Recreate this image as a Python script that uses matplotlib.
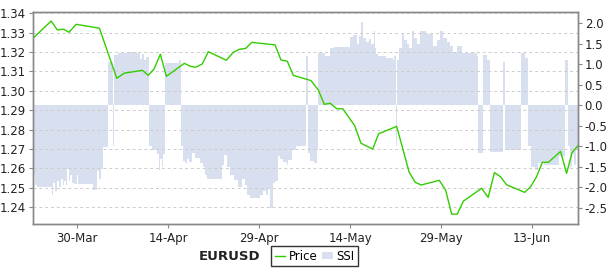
import matplotlib
matplotlib.use("Agg")
import matplotlib.pyplot as plt
from matplotlib.lines import Line2D
from matplotlib.patches import Patch
import numpy as np

# days counted from 30-Mar
price_day = [-7.42, -4.33, -3.30, -2.31, -1.37, -0.21, 3.63, 6.49, 7.70, 10.71,
             11.70, 12.64, 13.68, 14.67, 17.64, 18.58, 19.52, 20.60, 21.59, 24.56,
             25.71, 26.70, 27.76, 28.75, 32.59, 33.58, 34.61, 35.60, 38.52, 39.72,
             40.71, 41.70, 42.76, 43.75, 45.72, 46.76, 48.69, 49.68, 52.65, 54.72,
             55.71, 56.70, 59.67, 60.72, 61.71, 62.63, 63.66, 66.66, 67.74, 68.77,
             69.76, 70.78, 73.76, 74.73, 75.72, 76.68, 77.67, 79.68, 80.67, 81.57,
             82.53]
price = [1.3268, 1.3360, 1.3314, 1.3318, 1.3302, 1.3343, 1.3323, 1.3065, 1.3091, 1.3106,
         1.3080, 1.3113, 1.3189, 1.3075, 1.3142, 1.3127, 1.3122, 1.3139, 1.3202, 1.3158,
         1.3199, 1.3214, 1.3219, 1.3250, 1.3237, 1.3159, 1.3153, 1.3080, 1.3053, 1.3005,
         1.2931, 1.2936, 1.2908, 1.2908, 1.2821, 1.2730, 1.2700, 1.2779, 1.2817, 1.2580,
         1.2529, 1.2515, 1.2539, 1.2489, 1.2365, 1.2365, 1.2432, 1.2498, 1.2451, 1.2579,
         1.2558, 1.2516, 1.2477, 1.2506, 1.2558, 1.2632, 1.2632, 1.2688, 1.2575, 1.2682,
         1.2717]

ssi_day = [-7.38, -7.22, -6.97, -6.69, -4.25, -4.00, -3.68, -3.43, -3.10, -2.69,
           -2.44, -2.19, -1.86, -1.70, -1.45, -1.20, -0.87, -0.54, 0.00, 0.16,
           2.64, 3.20, 3.58, 3.91, 4.29, 5.01, 5.84, 6.00, 6.71, 8.19,
           9.84, 10.34, 10.66, 10.99, 11.32, 11.87, 12.31, 13.09, 13.38, 13.63,
           13.88, 14.18, 14.46, 16.76,
           17.15, 17.37, 17.67, 18.03, 18.41, 18.86, 19.40, 20.22, 20.72, 21.05,
           21.33, 23.80, 24.18, 24.63, 25.17, 25.83, 26.49, 27.10, 27.64, 28.05,
           28.47, 30.11, 30.66, 31.10, 31.48, 31.76, 32.21, 32.59, 33.13, 33.41,
           33.90, 34.52, 34.81, 35.34, 36.05,
           37.65, 37.95, 38.28, 39.02, 39.43,
           39.67, 40.00, 40.83, 41.65, 42.31, 44.97, 45.37, 46.08, 46.46, 46.74,
           47.02, 47.57, 48.11, 48.39, 48.83, 49.05, 49.30, 49.60, 50.87, 51.97,
           52.27, 52.53, 52.65, 53.03, 53.47, 53.85, 54.29, 54.67, 55.12, 55.50,
           55.94, 56.49, 57.48, 58.68, 59.24, 59.79, 60.28, 60.89, 61.43, 61.93,
           62.54, 63.36, 65.83,
           66.10, 66.92, 67.53, 67.98, 70.13, 70.50, 73.19, 73.80, 74.34, 74.83,
           75.44, 75.94, 76.93, 79.40, 80.34, 80.89, 81.22, 81.55, 81.96, 82.21,
           82.49]
ssi = [-1.50, -1.70, -1.95, -1.99, -2.19, -1.90, -2.10, -1.85, -1.99, -1.80,
       -1.95, -1.85, -1.95, -1.55, -1.85, -1.70, -1.90, -1.92, -1.70, -1.92,
       -2.07, -1.60, -1.80, -1.55, -1.01, 1.06, -1.00, 1.23, 1.28, 1.31,
       1.28, 1.12, 1.25, 1.10, 1.18, -1.00, -1.10, -1.20, -1.58, -1.30,
       -1.50, -1.20, 1.04, 1.10,
       -1.00, -1.35, -1.42, -1.32, -1.38, -1.17, -1.28, -1.40, -1.50, -1.70,
       -1.81, -1.45, -1.21, -1.50, -1.70, -1.82, -2.00, -1.80, -1.95, -2.20,
       -2.27, -2.20, -2.10, -2.20, -2.05, -2.51, -1.90, -1.85, -1.25, -1.32,
       -1.38, -1.45, -1.33, -1.10, -1.00,
       1.20, -1.17, -1.37, -1.40, -1.10,
       1.27, 1.27, 1.20, 1.40, 1.43, 1.67, 1.72, 1.50, 1.70, 2.03,
       1.65, 1.55, 1.62, 1.50, 1.80, 1.40, 1.25, 1.19, 1.16, 1.10,
       1.20, -1.00, 1.10, 1.40, 1.75, 1.60, 1.50, 1.40, 1.80, 1.65,
       1.50, 1.80, 1.75, 1.45, 1.60, 1.80, 1.65, 1.55, 1.45, 1.30,
       1.45, 1.27, 1.20,
       -1.17, 1.23, 1.10, -1.13, 1.06, -1.09, 1.27, 1.15, -1.00, -1.50,
       -1.58, -1.42, -1.46, -1.25, 1.10, -1.00, -1.50, -1.20, -1.45, -1.10,
       -1.10]

tick_days = [0, 15, 30, 45, 60, 75]
tick_labels = ["30-Mar", "14-Apr", "29-Apr", "14-May", "29-May", "13-Jun"]

green = "#33cc00"
blue = "#d8dfee"
grey = "#888888"

plt.rcParams["font.family"] = "DejaVu Sans"
plt.rcParams["font.size"] = 8.5

fig = plt.figure(figsize=(6.09, 2.69), dpi=100)
ax = fig.add_axes([0.0534, 0.1673, 0.8952, 0.787])
ax2 = ax.twinx()

# SSI area on the right scale
ax.fill_between(ssi_day, 0, ssi, step="post", color=blue, linewidth=0)
ax.set_ylim(-2.898, 2.268)
ax.set_yticks([-2.5, -2.0, -1.5, -1.0, -0.5, 0.0, 0.5, 1.0, 1.5, 2.0])
ax.set_yticklabels(["-2.5", "-2.0", "-1.5", "-1.0", "-0.5", "0.0", "0.5", "1.0", "1.5", "2.0"])
ax.set_xlim(-7.4, 82.5)
ax.set_xticks(tick_days)
ax.set_xticklabels(tick_labels)

# price on the left scale
ax2.plot(price_day, price, color=green, linewidth=1.0)
ax2.set_ylim(1.2314, 1.3405)
ax2.set_yticks(np.arange(1.24, 1.345, 0.01))
ax2.set_yticklabels(["%.2f" % v for v in np.arange(1.24, 1.345, 0.01)])
ax2.set_xlim(-7.4, 82.5)
ax2.grid(True, color="#cccccc", linestyle=(0, (3, 3)), linewidth=0.7)

ax.yaxis.tick_right()
ax2.yaxis.tick_left()

for a in (ax, ax2):
    for s in a.spines.values():
        s.set_color(grey)
        s.set_linewidth(1.0)
    a.tick_params(length=3, color=grey, labelcolor="#222222", pad=2)
ax.tick_params(axis="x", pad=3)

# legend below
fig.text(0.428, 0.047, "EURUSD", fontsize=9.5, fontweight="bold", ha="right", va="center", color="#222222")
handles = [Line2D([], [], color=green, linewidth=1.0),
           Patch(facecolor=blue, edgecolor="none")]
leg = fig.legend(handles, ["Price", "SSI"], loc="center left", bbox_to_anchor=(0.445, 0.047),
                 ncol=2, frameon=True, fancybox=False, fontsize=8.5, handlelength=0.9,
                 handleheight=0.6, handletextpad=0.3, columnspacing=0.4, borderpad=0.3,
                 borderaxespad=0)
leg.get_frame().set_edgecolor("black")
leg.get_frame().set_linewidth(1.0)

fig.savefig("out.png", dpi=100)
